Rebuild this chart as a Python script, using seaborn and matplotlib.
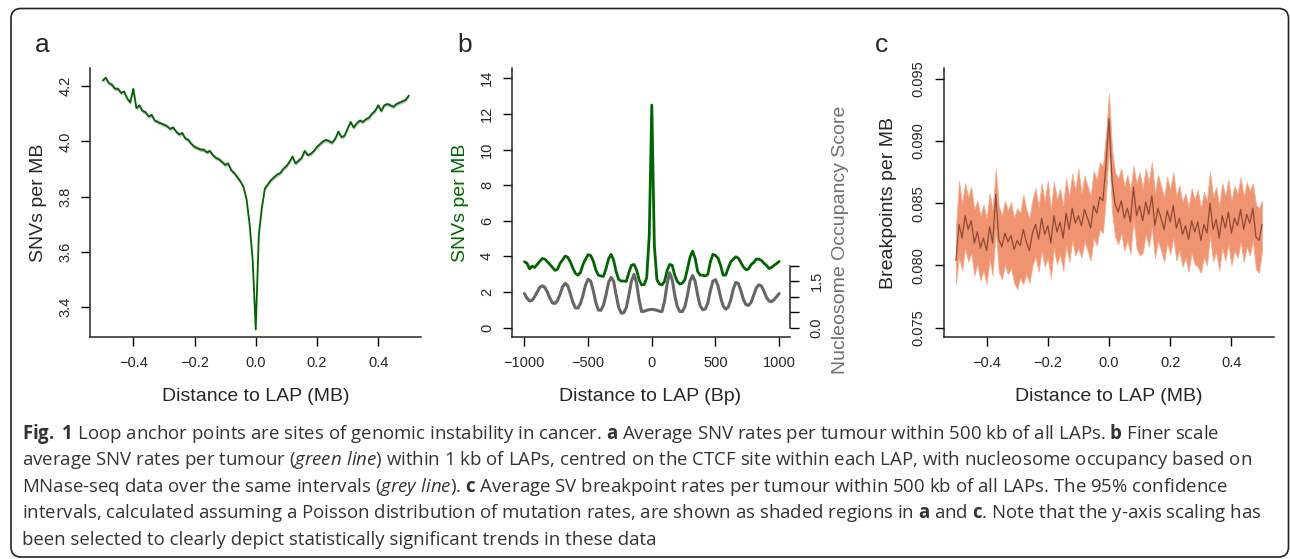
import numpy as np
import pandas as pd
import seaborn as sns
import matplotlib.pyplot as plt
from matplotlib.patches import FancyBboxPatch

# ---- panel a: SNVs per MB within 500 kb of LAPs ----
dist_mb = np.round(np.linspace(-0.5, 0.5, 101), 2)
snv_a = [4.220, 4.230, 4.210, 4.205, 4.190, 4.190, 4.175, 4.180, 4.155, 4.140,
         4.190, 4.120, 4.130, 4.110, 4.105, 4.090, 4.095, 4.075, 4.070, 4.065,
         4.060, 4.055, 4.045, 4.050, 4.035, 4.025, 4.030, 4.010, 4.005, 3.990,
         3.980, 3.975, 3.970, 3.970, 3.960, 3.965, 3.950, 3.940, 3.935, 3.925,
         3.915, 3.920, 3.895, 3.885, 3.870, 3.855, 3.835, 3.790, 3.700, 3.570,
         3.320,
         3.660, 3.760, 3.830, 3.845, 3.860, 3.870, 3.880, 3.885, 3.900, 3.910,
         3.925, 3.945, 3.920, 3.930, 3.940, 3.965, 3.950, 3.955, 3.965, 3.980,
         3.990, 4.000, 4.005, 4.000, 3.995, 4.010, 4.035, 4.015, 4.020, 4.045,
         4.070, 4.050, 4.065, 4.075, 4.070, 4.080, 4.085, 4.100, 4.110, 4.130,
         4.110, 4.130, 4.135, 4.130, 4.125, 4.135, 4.140, 4.145, 4.150, 4.165]
snv_a_ci = 0.007  # half width of the grey 95% band

# ---- panel b: SNVs per MB and nucleosome occupancy within 1 kb ----
dist_bp = np.arange(-1000, 1001, 20)
snv_b = [3.70, 3.62, 3.30, 3.45, 3.38, 3.55, 3.72, 3.88, 3.85, 3.70,
         3.55, 3.38, 3.22, 3.28, 3.62, 3.80, 4.02, 3.95, 3.70, 3.35,
         3.05, 2.95, 3.10, 3.55, 3.85, 4.10, 4.05, 3.75, 3.25, 2.95,
         2.90, 2.88, 3.30, 3.85, 4.12, 3.80, 3.15, 2.70, 2.62, 2.62,
         2.60, 3.10, 3.50, 3.55, 3.25, 2.70, 2.40, 2.42, 2.80, 5.20,
         12.50,
         4.60, 2.70, 2.45, 2.40, 2.60, 3.20, 3.55, 3.50, 2.95, 2.60,
         2.45, 2.50, 2.70, 3.30, 3.95, 4.30, 3.90, 3.15, 2.95, 2.95,
         2.90, 3.00, 3.70, 4.12, 4.05, 3.90, 3.50, 2.95, 2.95, 3.35,
         3.70, 3.85, 3.98, 3.90, 3.65, 3.40, 3.25, 3.30, 3.55, 3.65,
         3.85, 3.85, 3.78, 3.62, 3.50, 3.32, 3.38, 3.50, 3.60, 3.72]
nuc_score = [1.10, 0.95, 0.86, 0.88, 1.00, 1.15, 1.30, 1.35, 1.30, 1.15,
             0.95, 0.80, 0.78, 0.88, 1.08, 1.32, 1.43, 1.35, 1.10, 0.82,
             0.64, 0.63, 0.78, 1.05, 1.38, 1.56, 1.50, 1.20, 0.82, 0.57,
             0.56, 0.72, 1.05, 1.45, 1.62, 1.50, 1.05, 0.65, 0.47, 0.48,
             0.65, 1.05, 1.50, 1.72, 1.45, 0.90, 0.52, 0.53, 0.56, 0.58,
             0.59,
             0.58, 0.56, 0.53, 0.52, 0.85, 1.40, 1.77, 1.55, 1.05, 0.68,
             0.52, 0.52, 0.68, 1.05, 1.50, 1.68, 1.50, 1.05, 0.70, 0.58,
             0.60, 0.80, 1.20, 1.50, 1.55, 1.35, 0.98, 0.70, 0.60, 0.66,
             0.90, 1.25, 1.46, 1.42, 1.18, 0.90, 0.74, 0.72, 0.82, 1.05,
             1.28, 1.38, 1.35, 1.18, 0.98, 0.86, 0.84, 0.90, 1.00, 1.10]

# ---- panel c: SV breakpoints per MB within 500 kb of LAPs ----
bp_mean = [0.0804, 0.0833, 0.0822, 0.0840, 0.0829, 0.0836, 0.0818, 0.0827, 0.0814, 0.0822,
           0.0812, 0.0831, 0.0818, 0.0857, 0.0821, 0.0815, 0.0826, 0.0819, 0.0824, 0.0813,
           0.0820, 0.0816, 0.0829, 0.0819, 0.0812, 0.0826, 0.0833, 0.0821, 0.0838, 0.0825,
           0.0832, 0.0818, 0.0840, 0.0827, 0.0835, 0.0822, 0.0842, 0.0829, 0.0846, 0.0834,
           0.0840, 0.0832, 0.0845, 0.0838, 0.0830, 0.0848, 0.0842, 0.0855, 0.0852, 0.0880,
           0.0918,
           0.0868, 0.0849, 0.0843, 0.0852, 0.0838, 0.0846, 0.0835, 0.0863, 0.0840, 0.0848,
           0.0836, 0.0851, 0.0841, 0.0856, 0.0832, 0.0846, 0.0838, 0.0829, 0.0844, 0.0835,
           0.0848, 0.0830, 0.0838, 0.0825, 0.0832, 0.0821, 0.0836, 0.0827, 0.0835, 0.0820,
           0.0833, 0.0826, 0.0850, 0.0829, 0.0837, 0.0822, 0.0840, 0.0830, 0.0843, 0.0826,
           0.0838, 0.0832, 0.0845, 0.0829, 0.0841, 0.0834, 0.0846, 0.0823, 0.0820, 0.0833]
bp_upper = [0.0830, 0.0868, 0.0850, 0.0866, 0.0855, 0.0863, 0.0845, 0.0852, 0.0840, 0.0849,
            0.0838, 0.0858, 0.0845, 0.0877, 0.0848, 0.0840, 0.0852, 0.0844, 0.0851, 0.0838,
            0.0846, 0.0842, 0.0857, 0.0845, 0.0838, 0.0853, 0.0862, 0.0847, 0.0866, 0.0852,
            0.0868, 0.0845, 0.0867, 0.0853, 0.0862, 0.0848, 0.0870, 0.0855, 0.0874, 0.0860,
            0.0878, 0.0858, 0.0872, 0.0864, 0.0856, 0.0876, 0.0869, 0.0883, 0.0880, 0.0905,
            0.0938,
            0.0893, 0.0875, 0.0870, 0.0878, 0.0864, 0.0873, 0.0861, 0.0880, 0.0866, 0.0875,
            0.0862, 0.0878, 0.0867, 0.0883, 0.0858, 0.0873, 0.0864, 0.0855, 0.0871, 0.0861,
            0.0875, 0.0856, 0.0864, 0.0851, 0.0858, 0.0847, 0.0862, 0.0853, 0.0861, 0.0846,
            0.0859, 0.0852, 0.0876, 0.0855, 0.0863, 0.0848, 0.0866, 0.0856, 0.0869, 0.0852,
            0.0864, 0.0858, 0.0871, 0.0855, 0.0867, 0.0860, 0.0866, 0.0849, 0.0846, 0.0852]
bp_lower = [0.0785, 0.0807, 0.0796, 0.0814, 0.0803, 0.0810, 0.0792, 0.0801, 0.0788, 0.0796,
            0.0785, 0.0805, 0.0792, 0.0829, 0.0795, 0.0789, 0.0800, 0.0793, 0.0798, 0.0786,
            0.0781, 0.0790, 0.0785, 0.0793, 0.0786, 0.0800, 0.0807, 0.0795, 0.0812, 0.0799,
            0.0806, 0.0790, 0.0814, 0.0801, 0.0809, 0.0796, 0.0816, 0.0803, 0.0820, 0.0808,
            0.0814, 0.0806, 0.0819, 0.0812, 0.0804, 0.0822, 0.0816, 0.0829, 0.0826, 0.0855,
            0.0895,
            0.0843, 0.0823, 0.0817, 0.0826, 0.0812, 0.0820, 0.0809, 0.0837, 0.0814, 0.0808,
            0.0810, 0.0825, 0.0815, 0.0830, 0.0806, 0.0820, 0.0812, 0.0803, 0.0818, 0.0809,
            0.0822, 0.0804, 0.0812, 0.0799, 0.0806, 0.0795, 0.0810, 0.0801, 0.0799, 0.0794,
            0.0807, 0.0800, 0.0824, 0.0803, 0.0811, 0.0796, 0.0814, 0.0804, 0.0817, 0.0800,
            0.0812, 0.0806, 0.0819, 0.0803, 0.0815, 0.0808, 0.0820, 0.0797, 0.0794, 0.0812]

mb_ticks = [-0.4, -0.2, 0.0, 0.2, 0.4]
mb_tick_labels = ["\u22120.4", "\u22120.2", "0.0", "0.2", "0.4"]
bp_ticks = [-1000, -500, 0, 500, 1000]
bp_tick_labels = ["\u22121000", "\u2212500", "0", "500", "1000"]

caption_lines = [
    r"$\mathbf{Fig.}$ $\mathbf{1}$ Loop anchor points are sites of genomic instability in cancer. $\mathbf{a}$ Average SNV rates per tumour within 500 kb of all LAPs. $\mathbf{b}$ Finer scale",
    r"average SNV rates per tumour ($\mathit{green\ line}$) within 1 kb of LAPs, centred on the CTCF site within each LAP, with nucleosome occupancy based on",
    r"MNase-seq data over the same intervals ($\mathit{grey\ line}$). $\mathbf{c}$ Average SV breakpoint rates per tumour within 500 kb of all LAPs. The 95% confidence",
    r"intervals, calculated assuming a Poisson distribution of mutation rates, are shown as shaded regions in $\mathbf{a}$ and $\mathbf{c}$. Note that the y-axis scaling has",
    "been selected to clearly depict statistically significant trends in these data",
]

df_a = pd.DataFrame({"dist": dist_mb, "snv": snv_a})
df_b = pd.DataFrame({"dist": dist_bp, "snv": snv_b, "nuc": nuc_score})
df_c = pd.DataFrame({"dist": dist_mb, "mean": bp_mean, "lo": bp_lower, "hi": bp_upper})

sns.set_style("ticks")
plt.rcParams["font.family"] = ["Liberation Sans", "DejaVu Sans"]
plt.rcParams["mathtext.fontset"] = "custom"
plt.rcParams["mathtext.rm"] = "Open Sans"
plt.rcParams["mathtext.it"] = "Open Sans:italic"
plt.rcParams["mathtext.bf"] = "Open Sans:bold"

W, H = 1290, 559
fig = plt.figure(figsize=(W / 100, H / 100), dpi=100)


def px_axes(left, top, right, bottom):
    return fig.add_axes([left / W, 1 - bottom / H, (right - left) / W, (bottom - top) / H])


def px_text(x, y, s, **kw):
    fig.text(x / W, 1 - y / H, s, **kw)


green = "#006400"
tick_kw = dict(direction="out", length=6.7, width=1.0, labelsize=10.5, color="black")


def style(ax, ypad):
    sns.despine(ax=ax)
    for sp in ("left", "bottom"):
        ax.spines[sp].set_linewidth(1.1)
    ax.tick_params(axis="x", pad=7, **tick_kw)
    ax.tick_params(axis="y", pad=ypad, labelrotation=90, **tick_kw)
    for lab in ax.get_yticklabels():
        lab.set_va("center")
    ax.set_xlabel("")
    ax.set_ylabel("")


# panel a
ax_a = px_axes(90.3, 68.3, 420.7, 337.3)
ax_a.fill_between(df_a["dist"], df_a["snv"] - snv_a_ci, df_a["snv"] + snv_a_ci,
                  color="#bdbdbd", lw=0)
sns.lineplot(data=df_a, x="dist", y="snv", ax=ax_a, color=green, lw=1.3)
ax_a.set_xlim(-0.5405, 0.539)
ax_a.set_ylim(3.2915, 4.264)
ax_a.set_xticks(mb_ticks, mb_tick_labels)
ax_a.set_yticks([3.4, 3.6, 3.8, 4.0, 4.2], ["3.4", "3.6", "3.8", "4.0", "4.2"])
style(ax_a, 6)

# panel b
ax_b = px_axes(511.7, 68.3, 790, 337.3)
sns.lineplot(data=df_b, x="dist", y="snv", ax=ax_b, color=green, lw=2.0)
ax_b.set_xlim(-1100, 1085)
ax_b.set_ylim(-0.54, 14.56)
ax_b.set_xticks(bp_ticks, bp_tick_labels)
ax_b.set_yticks(range(0, 15, 2))
style(ax_b, 6)

ax_n = ax_b.twinx()
sns.lineplot(data=df_b, x="dist", y="nuc", ax=ax_n, color="#666666", lw=2.2)
scale = 17.8 / 31
ax_n.set_ylim(-0.54 * scale, 14.56 * scale)
for sp in ("top", "left", "bottom"):
    ax_n.spines[sp].set_visible(False)
ax_n.spines["right"].set_bounds(0, 2)
ax_n.spines["right"].set_linewidth(1.1)
ax_n.set_yticks([0, 0.5, 1.0, 1.5, 2.0], ["0.0", "", "", "1.5", ""])
ax_n.tick_params(axis="y", pad=7.5, labelrotation=90, **tick_kw)
for lab in ax_n.get_yticklabels():
    lab.set_va("center")
ax_n.set_ylabel("")

# panel c
ax_c = px_axes(944.3, 68.3, 1274.3, 337.3)
ax_c.fill_between(df_c["dist"], df_c["lo"], df_c["hi"], color="#ef9370", lw=0.6,
                  edgecolor="#f4ad90")
sns.lineplot(data=df_c, x="dist", y="mean", ax=ax_c, color="#8e4a34", lw=0.9)
ax_c.set_xlim(-0.538, 0.540)
ax_c.set_ylim(0.07423, 0.09584)
ax_c.set_xticks(mb_ticks, mb_tick_labels)
ax_c.set_yticks([0.075, 0.080, 0.085, 0.090, 0.095],
                ["0.075", "0.080", "0.085", "0.090", "0.095"])
style(ax_c, 7)

# axis titles and panel letters
lab_kw = dict(fontsize=14, ha="center", va="center")
px_text(255.5, 396.7, "Distance to LAP (MB)", **lab_kw)
px_text(650, 396.7, "Distance to LAP (Bp)", **lab_kw)
px_text(1108.3, 396.7, "Distance to LAP (MB)", **lab_kw)
px_text(38.3, 202.7, "SNVs per MB", rotation=90, **lab_kw)
px_text(460, 202.7, "SNVs per MB", rotation=90, color=green, **lab_kw)
px_text(840, 240, "Nucleosome Occupancy Score", rotation=90, color="#707070", **lab_kw)
px_text(888.3, 202.7, "Breakpoints per MB", rotation=90, **lab_kw)

let_kw = dict(fontsize=19, ha="left", va="baseline")
px_text(35, 51.7, "a", **let_kw)
px_text(457, 51.7, "b", **let_kw)
px_text(875, 51.7, "c", **let_kw)

# caption
for i, line in enumerate(caption_lines):
    px_text(22, 438.5 + 26.6 * i, line, fontsize=13.4, family="Open Sans",
            color="#333333", ha="left", va="baseline")

# rounded frame around the figure
frame = FancyBboxPatch((0.11, 0.02), 12.775, 5.485, boxstyle="round,pad=0,rounding_size=0.1",
                       transform=fig.dpi_scale_trans, fill=False, edgecolor="#222222", lw=1.2)
fig.patches.append(frame)

fig.savefig("out.png", dpi=100)
